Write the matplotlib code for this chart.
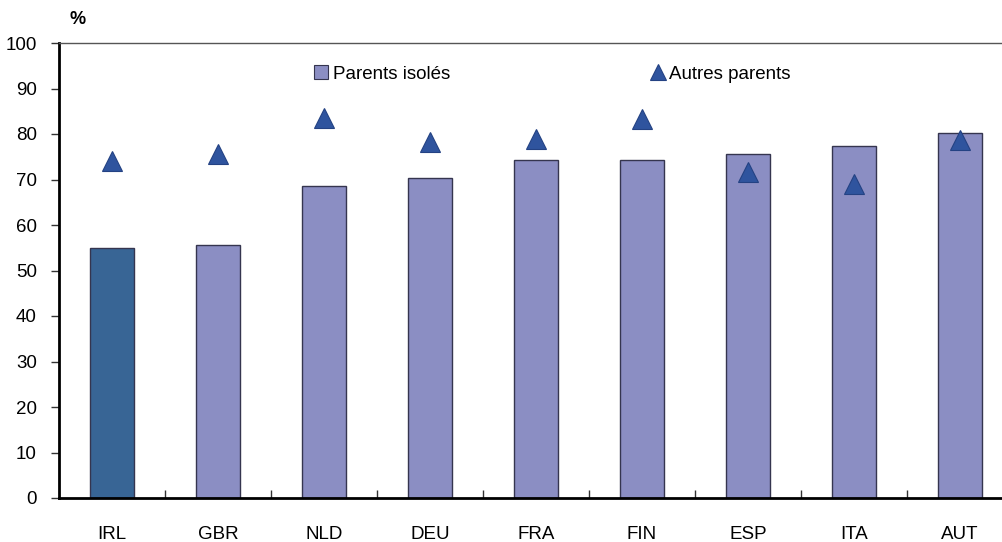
import matplotlib
matplotlib.use("Agg")
import matplotlib.pyplot as plt
from matplotlib.lines import Line2D
import numpy as np

plt.rcParams['font.family'] = ['Liberation Sans', 'DejaVu Sans']

countries = ["IRL", "GBR", "NLD", "DEU", "FRA", "FIN", "ESP", "ITA", "AUT"]
single_parents = [54.9, 55.5, 68.5, 70.4, 74.2, 74.2, 75.6, 77.3, 80.2]
other_parents = [74.1, 75.7, 83.5, 78.3, 78.9, 83.2, 71.7, 69.1, 78.6]
y_ticks = [0, 10, 20, 30, 40, 50, 60, 70, 80, 90, 100]

bar_color = "#8B8EC3"
highlight_color = "#386595"
tri_color = "#2F549E"
tri_edge = "#244283"

W, H = 1003, 542
fig = plt.figure(figsize=(W / 100, H / 100), dpi=100)
left, right, top, bottom = 59, 1013, 43, 498
ax = fig.add_axes([left / W, (H - bottom) / H, (right - left) / W, (bottom - top) / H])

x = np.arange(len(countries))
colors = [highlight_color if c == "IRL" else bar_color for c in countries]
ax.bar(x, single_parents, width=0.41, color=colors, edgecolor="#35354f", linewidth=1.0, zorder=2)
ax.plot(x, other_parents, linestyle="none", marker="^", markersize=14.5,
        markerfacecolor=tri_color, markeredgecolor=tri_edge, markeredgewidth=0.8, zorder=3)

ax.set_xlim(-0.5, len(countries) - 0.5)
ax.set_ylim(0, 100)
ax.set_yticks(y_ticks)
ax.set_yticklabels([str(v) for v in y_ticks], fontsize=13.5)
ax.tick_params(axis="y", direction="out", length=6, width=1, color="#333333", pad=10)

# category labels centred under bars, ticks between categories
ax.set_xticks(x)
ax.set_xticklabels(countries, fontsize=13.5)
ax.tick_params(axis="x", which="major", length=0, pad=20)
ax.set_xticks(np.arange(0.5, len(countries) - 0.5, 1), minor=True)
ax.tick_params(axis="x", which="minor", direction="in", length=6, width=1, color="#333333")

for side in ("left", "bottom"):
    ax.spines[side].set_linewidth(2)
    ax.spines[side].set_color("black")
ax.spines["top"].set_linewidth(1)
ax.spines["top"].set_color("#555555")
ax.spines["right"].set_visible(False)

fig.text(78 / W, 1 - 20 / H, "%", fontsize=13, fontweight="bold", ha="center", va="center")

handles = [
    Line2D([], [], linestyle="none", marker="s", markersize=10, markerfacecolor=bar_color,
           markeredgecolor="#35354f", markeredgewidth=0.8),
    Line2D([], [], linestyle="none", marker="^", markersize=11, markerfacecolor=tri_color,
           markeredgecolor=tri_edge, markeredgewidth=0.8),
]
ax.legend(handles, ["Parents isolés", "Autres parents"], ncol=2, frameon=False,
          loc="center left", bbox_to_anchor=((312 - left) / (right - left), 1 - (74 - top) / (bottom - top)),
          fontsize=13.5, handletextpad=0.1, handlelength=1.0, columnspacing=10.6,
          borderpad=0, borderaxespad=0)

fig.savefig("out.png", dpi=100)
